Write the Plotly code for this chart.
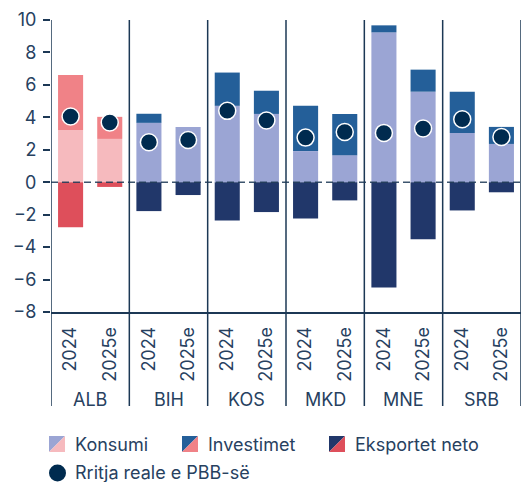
import plotly.graph_objects as go

countries = ["ALB", "BIH", "KOS", "MKD", "MNE", "SRB"]
years = ["2024", "2025e"]
konsumi = [3.22, 2.67, 3.66, 3.41, 4.71, 4.21, 1.92, 1.67, 9.24, 5.58, 3.04, 2.36]
investimet = [3.39, 1.36, 0.56, 0.0, 2.05, 1.43, 2.79, 2.54, 0.43, 1.36, 2.54, 1.05]
eksportet = [-2.77, -0.29, -1.78, -0.79, -2.36, -1.84, -2.23, -1.12, -6.49, -3.51, -1.74, -0.62]
rritja = [4.05, 3.68, 2.46, 2.60, 4.40, 3.80, 2.75, 3.10, 3.04, 3.31, 3.88, 2.79]
y_ticks = [-8, -6, -4, -2, 0, 2, 4, 6, 8, 10]

n = len(countries) * len(years)
xs = list(range(n))
year_labels = [years[i % len(years)] for i in xs]
country_of = [countries[i // len(years)] for i in xs]

BLUE = {"k": "#9ba5d4", "i": "#245f99", "e": "#21376a"}
RED = {"k": "#f6babe", "i": "#f08287", "e": "#de4f5b"}
DOT = "#002b4f"
TXT = "#27415f"
LINE = "#1c3855"
FONT = "Inter"

def colors(key):
    return [RED[key] if c == "ALB" else BLUE[key] for c in country_of]

fig = go.Figure()
fig.add_bar(x=xs, y=konsumi, marker_color=colors("k"), marker_line_width=0, name="Konsumi", showlegend=False)
fig.add_bar(x=xs, y=investimet, marker_color=colors("i"), marker_line_width=0, name="Investimet", showlegend=False)
fig.add_bar(x=xs, y=eksportet, marker_color=colors("e"), marker_line_width=0, name="Eksportet neto", showlegend=False)
fig.add_scatter(x=xs, y=rritja, mode="markers", name="Rritja reale e PBB-së", showlegend=False,
                marker=dict(size=17, color=DOT, line=dict(color="white", width=1.5)))

# plot area in pixels
W, H = 525, 482
L, R, T, B = 51, 4, 20, 170
PW, PH = W - L - R, H - T - B

def px(xp):
    return (xp - L) / PW

def py(yp):
    return (H - B - yp) / PH

shapes = []
# zero dashed line
shapes.append(dict(type="line", xref="paper", yref="y", x0=0, x1=1, y0=0, y1=0,
                   line=dict(color=LINE, width=1.5, dash="7px,4px"), layer="above", opacity=0.85))
# group separators
for g in range(len(countries) + 1):
    xb = g * len(years) - 0.5
    shapes.append(dict(type="line", xref="x", yref="paper", x0=xb, x1=xb, y0=1, y1=py(406),
                       line=dict(color=LINE, width=1.5), layer="above"))

annotations = []
for g, c in enumerate(countries):
    annotations.append(dict(x=g * len(years) + 0.5, y=py(399), xref="x", yref="paper", text=c,
                            showarrow=False, font=dict(size=18, color=TXT, family=FONT),
                            xanchor="center", yanchor="middle"))

# custom legend
legend_items = [
    ("Konsumi", "k", 49),
    ("Investimet", "i", 182),
    ("Eksportet neto", "e", 329),
]
ly = 444
s = 16
for label, key, x0 in legend_items:
    xa, xb2 = px(x0), px(x0 + s)
    ya, yb = py(ly + s / 2), py(ly - s / 2)  # bottom, top
    shapes.append(dict(type="path", xref="paper", yref="paper",
                       path=f"M {xa},{ya} L {xa},{yb} L {xb2},{yb} Z",
                       fillcolor=BLUE[key], line=dict(width=0), layer="above"))
    shapes.append(dict(type="path", xref="paper", yref="paper",
                       path=f"M {xa},{ya} L {xb2},{yb} L {xb2},{ya} Z",
                       fillcolor=RED[key], line=dict(width=0), layer="above"))
    annotations.append(dict(x=px(x0 + 24), y=py(ly), xref="paper", yref="paper", text=label,
                            showarrow=False, xanchor="left", yanchor="middle",
                            font=dict(size=18, color=TXT, family=FONT)))
ly2 = 473
shapes.append(dict(type="circle", xref="paper", yref="paper",
                   x0=px(49), x1=px(66), y0=py(ly2 + 8.5), y1=py(ly2 - 8.5),
                   fillcolor=DOT, line=dict(width=0), layer="above"))
annotations.append(dict(x=px(49 + 24), y=py(ly2), xref="paper", yref="paper", text="Rritja reale e PBB-së",
                        showarrow=False, xanchor="left", yanchor="middle",
                        font=dict(size=18, color=TXT, family=FONT)))

fig.update_layout(
    width=W, height=H,
    margin=dict(l=L, r=R, t=T, b=B),
    barmode="relative", bargap=0.36,
    plot_bgcolor="white", paper_bgcolor="white",
    font=dict(family=FONT, size=18, color=TXT),
    shapes=shapes, annotations=annotations,
    xaxis=dict(range=[-0.5, n - 0.5], tickmode="array", tickvals=xs, ticktext=year_labels,
               tickangle=-90, showgrid=False, zeroline=False, showline=True, linecolor=LINE,
               linewidth=1.5, ticks="", tickfont=dict(size=18, color=TXT, family=FONT),
               ticklabelstandoff=6, automargin=False),
    yaxis=dict(range=[-8, 10], tickvals=y_ticks, showgrid=False, zeroline=False, showline=False,
               ticks="outside", ticklen=7, tickwidth=1.5, tickcolor=LINE, automargin=False,
               ticklabelstandoff=3, tickfont=dict(size=18, color=TXT, family=FONT)),
)

fig.write_html("out.html", config={"displayModeBar": False},
               post_script="document.body.style.margin='0';")
